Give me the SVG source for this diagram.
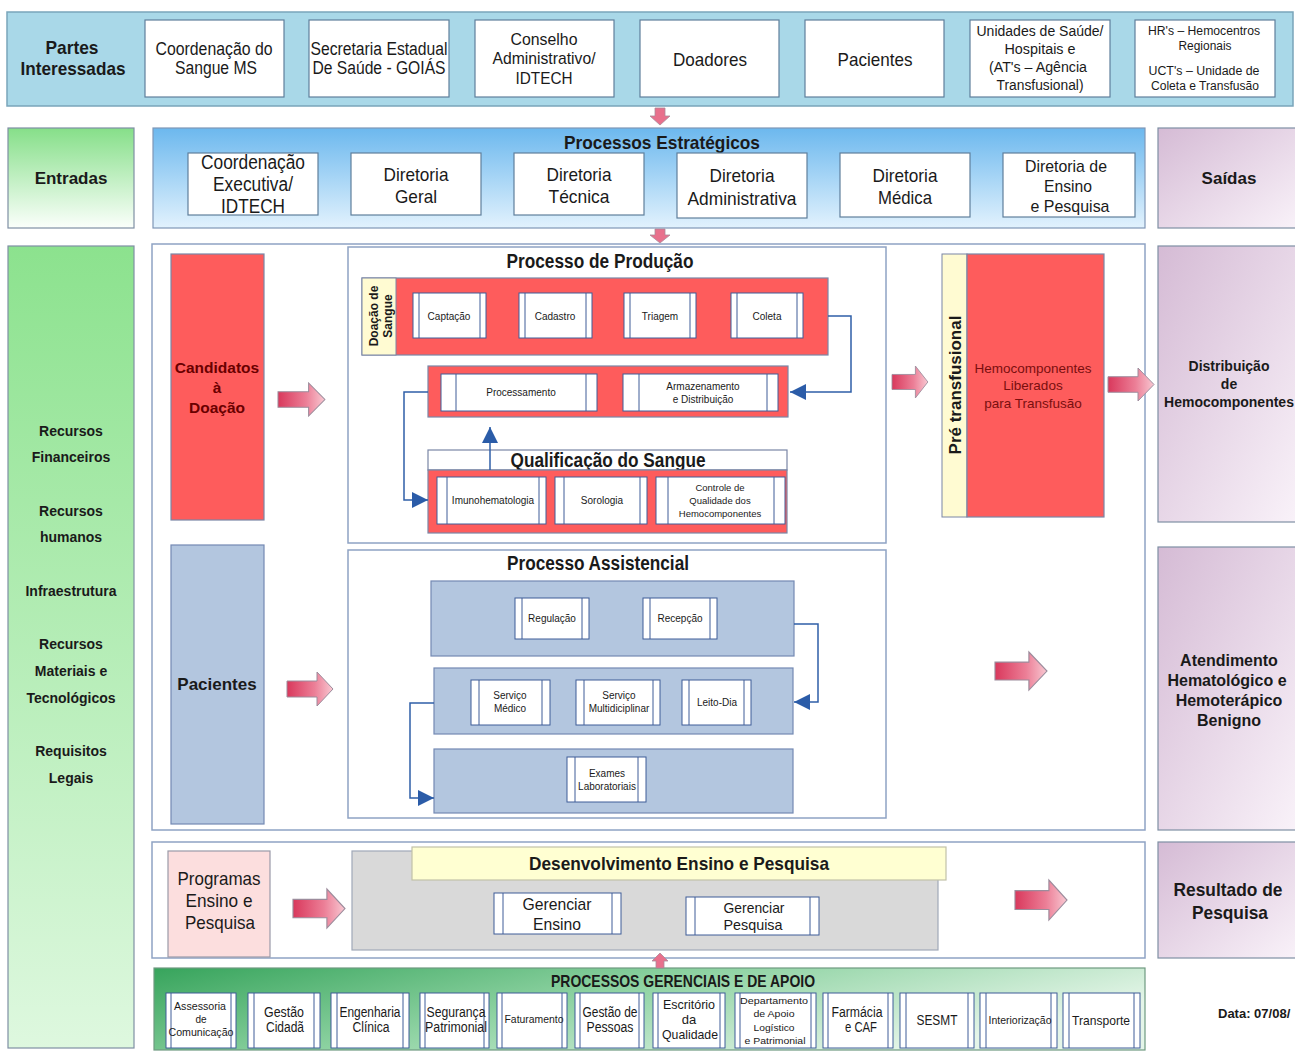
<svg xmlns="http://www.w3.org/2000/svg" xmlns:xlink="http://www.w3.org/1999/xlink" width="1295" height="1052" viewBox="0 0 1295 1052">
<defs>
<style>
.n{font-family:"Liberation Sans Narrow","Liberation Sans",Arial,sans-serif;fill:#1a1a1a;text-anchor:middle;dominant-baseline:central}
.s{font-family:"Liberation Sans",Arial,sans-serif;fill:#1a1a1a;text-anchor:middle;dominant-baseline:central}
.b{font-weight:bold}
.wb{fill:#fff;stroke:#5f7f9c;stroke-width:1.2}
.pb{fill:#fff;stroke:#3e5c98;stroke-width:1}
.pl{stroke:#3e5c98;stroke-width:1}
.red{fill:#fe5c5c;stroke:#7a86a6;stroke-width:1.2}
.blu{fill:#b3c6df;stroke:#7389b3;stroke-width:1.2}
.cnt{fill:#fff;stroke:#8ea3c4;stroke-width:1.5}
.cream{fill:#fffbd2;stroke:#7a86a6;stroke-width:1}
.conn{fill:none;stroke:#2f5fa8;stroke-width:1.5}
.pa{fill:url(#gpa);stroke:#9c8c9c;stroke-width:1}
.dr{fill:#7a0f0f}
.cd{fill:#6a0000}
</style>
<linearGradient id="gpa" x1="0" y1="0" x2="1" y2="0"><stop offset="0" stop-color="#d9385c"/><stop offset="0.6" stop-color="#ec7f97"/><stop offset="1" stop-color="#f8c8d2"/></linearGradient>
<linearGradient id="gent" x1="0" y1="0" x2="0" y2="1"><stop offset="0" stop-color="#86df89"/><stop offset="1" stop-color="#fbfffb"/></linearGradient>
<linearGradient id="gcol" x1="0" y1="0" x2="0" y2="1"><stop offset="0" stop-color="#8ce28e"/><stop offset="1" stop-color="#def8df"/></linearGradient>
<linearGradient id="gstr" x1="0" y1="0" x2="0" y2="1"><stop offset="0" stop-color="#6cb8ee"/><stop offset="1" stop-color="#e2f2fd"/></linearGradient>
<linearGradient id="gpur" x1="0" y1="0" x2="1" y2="1"><stop offset="0" stop-color="#d5bbd5"/><stop offset="1" stop-color="#f9f2f9"/></linearGradient>
<linearGradient id="ggrn" x1="0" y1="0" x2="1" y2="0.4"><stop offset="0" stop-color="#37a45c"/><stop offset="0.5" stop-color="#8fd3a3"/><stop offset="1" stop-color="#e4f5e8"/></linearGradient>
<marker id="ba" viewBox="0 0 10 10" refX="10" refY="5" markerWidth="19" markerHeight="16" markerUnits="userSpaceOnUse" orient="auto"><path d="M0,0 L10,5 L0,10 z" fill="#2b5ca8"/></marker>
<path id="parrow" d="M0,9 H30 V0 L46,17 L30,34 V25 H0 Z"/>
</defs>

<rect width="1295" height="1052" fill="#fff"/>

<!-- Partes interessadas -->
<g id="partes">
<rect x="7" y="12" width="1286" height="94" fill="#a9d8e8" stroke="#7aa5ba" stroke-width="1.5"/>
<text class="n b" x="72" y="47" font-size="19" textLength="53" lengthAdjust="spacingAndGlyphs">Partes</text>
<text class="n b" x="73" y="68" font-size="19" textLength="105" lengthAdjust="spacingAndGlyphs">Interessadas</text>
</g>
<g id="p1"><rect class="wb" x="145" y="20" width="139" height="77"/><text class="n" x="214" y="49" font-size="18" textLength="117" lengthAdjust="spacingAndGlyphs">Coordenação do</text><text class="n" x="216" y="68" font-size="18" textLength="82" lengthAdjust="spacingAndGlyphs">Sangue MS</text></g>
<g id="p2"><rect class="wb" x="309" y="20" width="140" height="77"/><text class="n" x="379" y="49" font-size="18" textLength="137" lengthAdjust="spacingAndGlyphs">Secretaria Estadual</text><text class="n" x="379" y="68" font-size="18" textLength="133" lengthAdjust="spacingAndGlyphs">De Saúde - GOIÁS</text></g>
<g id="p3"><rect class="wb" x="475" y="20" width="139" height="77"/><text class="n" x="544" y="39" font-size="17" textLength="67" lengthAdjust="spacingAndGlyphs">Conselho</text><text class="n" x="544" y="58" font-size="17" textLength="103" lengthAdjust="spacingAndGlyphs">Administrativo/</text><text class="n" x="544" y="78" font-size="17" textLength="57" lengthAdjust="spacingAndGlyphs">IDTECH</text></g>
<g id="p4"><rect class="wb" x="640" y="20" width="139" height="77"/><text class="n" x="710" y="59" font-size="19" textLength="74" lengthAdjust="spacingAndGlyphs">Doadores</text></g>
<g id="p5"><rect class="wb" x="805" y="20" width="139" height="77"/><text class="n" x="875" y="59" font-size="19" textLength="75" lengthAdjust="spacingAndGlyphs">Pacientes</text></g>
<g id="p6"><rect class="wb" x="970" y="20" width="140" height="77"/><text class="n" x="1040" y="31" font-size="14" textLength="127" lengthAdjust="spacingAndGlyphs">Unidades de Saúde/</text><text class="n" x="1040" y="49" font-size="14" textLength="71" lengthAdjust="spacingAndGlyphs">Hospitais e</text><text class="n" x="1038" y="67" font-size="14" textLength="98" lengthAdjust="spacingAndGlyphs">(AT's – Agência</text><text class="n" x="1040" y="85" font-size="14" textLength="87" lengthAdjust="spacingAndGlyphs">Transfusional)</text></g>
<g id="p7"><rect class="wb" x="1135" y="20" width="140" height="77"/><text class="n" x="1204" y="31" font-size="12" textLength="112" lengthAdjust="spacingAndGlyphs">HR's – Hemocentros</text><text class="n" x="1205" y="46" font-size="12" textLength="53" lengthAdjust="spacingAndGlyphs">Regionais</text><text class="n" x="1204" y="71" font-size="12" textLength="111" lengthAdjust="spacingAndGlyphs">UCT's – Unidade de</text><text class="n" x="1205" y="86" font-size="12" textLength="108" lengthAdjust="spacingAndGlyphs">Coleta e Transfusão</text></g>

<!-- Entradas / Estrategicos / Saidas -->
<g id="entradas"><rect x="8" y="128" width="126" height="100" fill="url(#gent)" stroke="#7f8fa4" stroke-width="1.2"/><text class="s b" x="71" y="178" font-size="17">Entradas</text></g>
<g id="estrategicos">
<rect x="153" y="128" width="992" height="100" fill="url(#gstr)" stroke="#7f97b6" stroke-width="1.2"/>
<text class="n b" x="662" y="142" font-size="19" textLength="196" lengthAdjust="spacingAndGlyphs">Processos Estratégicos</text>
<rect class="wb" x="188" y="153" width="130" height="62"/><text class="n" x="253" y="162" font-size="20" textLength="104" lengthAdjust="spacingAndGlyphs">Coordenação</text><text class="n" x="253" y="184" font-size="20" textLength="80" lengthAdjust="spacingAndGlyphs">Executiva/</text><text class="n" x="253" y="206" font-size="20" textLength="64" lengthAdjust="spacingAndGlyphs">IDTECH</text>
<rect class="wb" x="351" y="153" width="130" height="62"/><text class="n" x="416" y="174" font-size="19" textLength="65" lengthAdjust="spacingAndGlyphs">Diretoria</text><text class="n" x="416" y="196" font-size="19" textLength="42" lengthAdjust="spacingAndGlyphs">Geral</text>
<rect class="wb" x="514" y="153" width="130" height="62"/><text class="n" x="579" y="174" font-size="19" textLength="65" lengthAdjust="spacingAndGlyphs">Diretoria</text><text class="n" x="579" y="196" font-size="19" textLength="61" lengthAdjust="spacingAndGlyphs">Técnica</text>
<rect class="wb" x="677" y="153" width="130" height="65"/><text class="n" x="742" y="175" font-size="19" textLength="65" lengthAdjust="spacingAndGlyphs">Diretoria</text><text class="n" x="742" y="198" font-size="19" textLength="109" lengthAdjust="spacingAndGlyphs">Administrativa</text>
<rect class="wb" x="840" y="153" width="130" height="64"/><text class="n" x="905" y="175" font-size="19" textLength="65" lengthAdjust="spacingAndGlyphs">Diretoria</text><text class="n" x="905" y="197" font-size="19" textLength="54" lengthAdjust="spacingAndGlyphs">Médica</text>
<rect class="wb" x="1003" y="153" width="132" height="64"/><text class="n" x="1066" y="166" font-size="17" textLength="82" lengthAdjust="spacingAndGlyphs">Diretoria de</text><text class="n" x="1068" y="186" font-size="17" textLength="48" lengthAdjust="spacingAndGlyphs">Ensino</text><text class="n" x="1070" y="206" font-size="17" textLength="79" lengthAdjust="spacingAndGlyphs">e Pesquisa</text>
</g>
<g id="saidas"><rect x="1158" y="128" width="140" height="100" fill="url(#gpur)" stroke="#7f8fa4" stroke-width="1.2"/><text class="s b" x="1229" y="178" font-size="17">Saídas</text></g>

<!-- Left column -->
<g id="recursos">
<rect x="8" y="246" width="126" height="802" fill="url(#gcol)" stroke="#7f8fa4" stroke-width="1.2"/>
<text class="s b" x="71" y="431" font-size="14">Recursos</text>
<text class="s b" x="71" y="457" font-size="14">Financeiros</text>
<text class="s b" x="71" y="511" font-size="14">Recursos</text>
<text class="s b" x="71" y="537" font-size="14">humanos</text>
<text class="s b" x="71" y="591" font-size="14">Infraestrutura</text>
<text class="s b" x="71" y="644" font-size="14">Recursos</text>
<text class="s b" x="71" y="671" font-size="14">Materiais e</text>
<text class="s b" x="71" y="698" font-size="14">Tecnológicos</text>
<text class="s b" x="71" y="751" font-size="14">Requisitos</text>
<text class="s b" x="71" y="778" font-size="14">Legais</text>
</g>

<!-- Main container -->
<rect class="cnt" x="152" y="244" width="993" height="586"/>

<g id="candidatos"><rect x="171" y="254" width="93" height="266" fill="#fe5c5c" stroke="#7a86a6" stroke-width="1.2"/>
<text class="s b cd" x="217" y="367" font-size="15.5">Candidatos</text><text class="s b cd" x="217" y="387" font-size="15.5">à</text><text class="s b cd" x="217" y="407" font-size="15.5">Doação</text></g>
<g id="pacientes-in"><rect x="171" y="545" width="93" height="279" fill="#b3c6df" stroke="#7389b3" stroke-width="1.2"/><text class="s b" x="217" y="684" font-size="17">Pacientes</text></g>

<!-- Processo de Producao -->
<g id="producao">
<rect class="cnt" x="348" y="247" width="538" height="296"/>
<text class="n b" x="600" y="261" font-size="20" textLength="187" lengthAdjust="spacingAndGlyphs">Processo de Produção</text>
<rect class="red" x="362" y="278" width="466" height="77"/>
<rect class="cream" x="362" y="278" width="34" height="77"/>
<text class="s b" font-size="12" transform="translate(374,316) rotate(-90)">Doação de</text>
<text class="s b" font-size="12" transform="translate(388,316) rotate(-90)">Sangue</text>
<g><rect class="pb" x="413" y="293" width="73" height="45"/><line class="pl" x1="419" y1="293" x2="419" y2="338"/><line class="pl" x1="480" y1="293" x2="480" y2="338"/><text class="s" x="449" y="316" font-size="10">Captação</text></g>
<g><rect class="pb" x="519" y="293" width="73" height="45"/><line class="pl" x1="525" y1="293" x2="525" y2="338"/><line class="pl" x1="586" y1="293" x2="586" y2="338"/><text class="s" x="555" y="316" font-size="10">Cadastro</text></g>
<g><rect class="pb" x="624" y="293" width="72" height="45"/><line class="pl" x1="630" y1="293" x2="630" y2="338"/><line class="pl" x1="690" y1="293" x2="690" y2="338"/><text class="s" x="660" y="316" font-size="10">Triagem</text></g>
<g><rect class="pb" x="731" y="293" width="72" height="45"/><line class="pl" x1="737" y1="293" x2="737" y2="338"/><line class="pl" x1="797" y1="293" x2="797" y2="338"/><text class="s" x="767" y="316" font-size="10">Coleta</text></g>
<rect class="red" x="428" y="366" width="360" height="51"/>
<g><rect class="pb" x="441" y="374" width="156" height="37"/><line class="pl" x1="456" y1="374" x2="456" y2="411"/><line class="pl" x1="586" y1="374" x2="586" y2="411"/><text class="s" x="521" y="392" font-size="10">Processamento</text></g>
<g><rect class="pb" x="623" y="374" width="155" height="37"/><line class="pl" x1="639" y1="374" x2="639" y2="411"/><line class="pl" x1="767" y1="374" x2="767" y2="411"/><text class="s" x="703" y="386" font-size="10">Armazenamento</text><text class="s" x="703" y="399" font-size="10">e Distribuição</text></g>
<rect x="428" y="450" width="359" height="20" fill="#fff" stroke="#7a86a6" stroke-width="1.2"/>
<text class="n b" x="608" y="459" font-size="21" textLength="195" lengthAdjust="spacingAndGlyphs">Qualificação do Sangue</text>
<rect class="red" x="428" y="470" width="359" height="63"/>
<g><rect class="pb" x="437" y="477" width="109" height="47"/><line class="pl" x1="447" y1="477" x2="447" y2="524"/><line class="pl" x1="539" y1="477" x2="539" y2="524"/><text class="s" x="493" y="500" font-size="10">Imunohematologia</text></g>
<g><rect class="pb" x="555" y="477" width="92" height="47"/><line class="pl" x1="564" y1="477" x2="564" y2="524"/><line class="pl" x1="640" y1="477" x2="640" y2="524"/><text class="s" x="602" y="500" font-size="10">Sorologia</text></g>
<g><rect class="pb" x="656" y="477" width="129" height="47"/><line class="pl" x1="668" y1="477" x2="668" y2="524"/><line class="pl" x1="774" y1="477" x2="774" y2="524"/><text class="s" x="720" y="487" font-size="9.5">Controle de</text><text class="s" x="720" y="500" font-size="9.5">Qualidade dos</text><text class="s" x="720" y="513" font-size="9.5">Hemocomponentes</text></g>
</g>

<!-- Pre transfusional -->
<g id="pretransfusional">
<rect class="cream" x="942" y="254" width="25" height="263"/>
<rect class="red" x="967" y="254" width="137" height="263"/>
<text class="s b" font-size="17" transform="translate(955,385) rotate(-90)">Pré transfusional</text>
<text class="s dr" x="1033" y="368" font-size="13.5">Hemocomponentes</text>
<text class="s dr" x="1033" y="385" font-size="13.5">Liberados</text>
<text class="s dr" x="1033" y="403" font-size="13.5">para Transfusão</text>
</g>

<!-- Processo Assistencial -->
<g id="assistencial">
<rect class="cnt" x="348" y="550" width="538" height="268"/>
<text class="n b" x="598" y="563" font-size="20" textLength="182" lengthAdjust="spacingAndGlyphs">Processo Assistencial</text>
<rect class="blu" x="431" y="581" width="363" height="75"/>
<g><rect class="pb" x="515" y="598" width="74" height="41"/><line class="pl" x1="522" y1="598" x2="522" y2="639"/><line class="pl" x1="582" y1="598" x2="582" y2="639"/><text class="s" x="552" y="618" font-size="10">Regulação</text></g>
<g><rect class="pb" x="643" y="598" width="74" height="41"/><line class="pl" x1="650" y1="598" x2="650" y2="639"/><line class="pl" x1="710" y1="598" x2="710" y2="639"/><text class="s" x="680" y="618" font-size="10">Recepção</text></g>
<rect class="blu" x="434" y="668" width="359" height="66"/>
<g><rect class="pb" x="471" y="680" width="79" height="45"/><line class="pl" x1="479" y1="680" x2="479" y2="725"/><line class="pl" x1="542" y1="680" x2="542" y2="725"/><text class="s" x="510" y="695" font-size="10">Serviço</text><text class="s" x="510" y="708" font-size="10">Médico</text></g>
<g><rect class="pb" x="576" y="680" width="84" height="45"/><line class="pl" x1="584" y1="680" x2="584" y2="725"/><line class="pl" x1="653" y1="680" x2="653" y2="725"/><text class="s" x="619" y="695" font-size="10">Serviço</text><text class="s" x="619" y="708" font-size="10">Multidiciplinar</text></g>
<g><rect class="pb" x="682" y="680" width="69" height="45"/><line class="pl" x1="689" y1="680" x2="689" y2="725"/><line class="pl" x1="744" y1="680" x2="744" y2="725"/><text class="s" x="717" y="702" font-size="10">Leito-Dia</text></g>
<rect class="blu" x="434" y="749" width="359" height="64"/>
<g><rect class="pb" x="567" y="757" width="79" height="45"/><line class="pl" x1="575" y1="757" x2="575" y2="802"/><line class="pl" x1="638" y1="757" x2="638" y2="802"/><text class="s" x="607" y="773" font-size="10">Exames</text><text class="s" x="607" y="786" font-size="10">Laboratoriais</text></g>
</g>

<!-- Right column outputs -->
<g id="distribuicao"><rect x="1158" y="246" width="140" height="276" fill="url(#gpur)" stroke="#7f8fa4" stroke-width="1.2"/><text class="s b" x="1229" y="366" font-size="14">Distribuição</text><text class="s b" x="1229" y="384" font-size="14">de</text><text class="s b" x="1229" y="402" font-size="14">Hemocomponentes</text></g>
<g id="atendimento"><rect x="1158" y="547" width="140" height="283" fill="url(#gpur)" stroke="#7f8fa4" stroke-width="1.2"/><text class="s b" x="1229" y="660" font-size="16">Atendimento</text><text class="s b" x="1227" y="680" font-size="16">Hematológico e</text><text class="s b" x="1229" y="700" font-size="16">Hemoterápico</text><text class="s b" x="1229" y="720" font-size="16">Benigno</text></g>
<g id="resultado"><rect x="1158" y="842" width="140" height="116" fill="url(#gpur)" stroke="#7f8fa4" stroke-width="1.2"/><text class="n b" x="1228" y="889" font-size="19" textLength="109" lengthAdjust="spacingAndGlyphs">Resultado de</text><text class="n b" x="1230" y="912" font-size="19" textLength="76" lengthAdjust="spacingAndGlyphs">Pesquisa</text></g>

<!-- Ensino e Pesquisa -->
<g id="ensino">
<rect class="cnt" x="152" y="842" width="993" height="116"/>
<rect x="168" y="851" width="102" height="106" fill="#fcdede" stroke="#9a9aa8" stroke-width="1.2"/>
<text class="n" x="219" y="878" font-size="19" textLength="83" lengthAdjust="spacingAndGlyphs">Programas</text><text class="n" x="219" y="900" font-size="19" textLength="67" lengthAdjust="spacingAndGlyphs">Ensino e</text><text class="n" x="220" y="922" font-size="19" textLength="70" lengthAdjust="spacingAndGlyphs">Pesquisa</text>
<rect x="352" y="851" width="586" height="99" fill="#d9d9d9" stroke="#a0a8b8" stroke-width="1.2"/>
<rect x="412" y="847" width="534" height="33" fill="#ffffd2" stroke="#c2c2a8" stroke-width="1.2"/>
<text class="n b" x="679" y="863" font-size="19" textLength="300" lengthAdjust="spacingAndGlyphs">Desenvolvimento Ensino e Pesquisa</text>
<g><rect class="pb" x="494" y="893" width="127" height="41"/><line class="pl" x1="503" y1="893" x2="503" y2="934"/><line class="pl" x1="612" y1="893" x2="612" y2="934"/><text class="n" x="557" y="904" font-size="17" textLength="69" lengthAdjust="spacingAndGlyphs">Gerenciar</text><text class="n" x="557" y="924" font-size="17" textLength="48" lengthAdjust="spacingAndGlyphs">Ensino</text></g>
<g><rect class="pb" x="686" y="897" width="133" height="38"/><line class="pl" x1="695" y1="897" x2="695" y2="935"/><line class="pl" x1="810" y1="897" x2="810" y2="935"/><text class="n" x="754" y="907" font-size="15" textLength="61" lengthAdjust="spacingAndGlyphs">Gerenciar</text><text class="n" x="753" y="924" font-size="15" textLength="59" lengthAdjust="spacingAndGlyphs">Pesquisa</text></g>
</g>

<!-- Gerenciais e apoio -->
<g id="gerenciais">
<rect x="154" y="968" width="991" height="82" fill="url(#ggrn)" stroke="#6f9a80" stroke-width="1.2"/>
<text class="n b" x="683" y="981" font-size="17" textLength="264" lengthAdjust="spacingAndGlyphs">PROCESSOS GERENCIAIS E DE APOIO</text>
<g><rect class="pb" x="166" y="993" width="70" height="55"/><line class="pl" x1="171" y1="993" x2="171" y2="1048"/><line class="pl" x1="231" y1="993" x2="231" y2="1048"/><text class="n" x="200" y="1006" font-size="10" textLength="52" lengthAdjust="spacingAndGlyphs">Assessoria</text><text class="n" x="201" y="1019" font-size="10">de</text><text class="n" x="201" y="1032" font-size="10" textLength="65" lengthAdjust="spacingAndGlyphs">Comunicação</text></g>
<g><rect class="pb" x="248" y="993" width="72" height="55"/><line class="pl" x1="254" y1="993" x2="254" y2="1048"/><line class="pl" x1="314" y1="993" x2="314" y2="1048"/><text class="n" x="284" y="1012" font-size="14" textLength="40" lengthAdjust="spacingAndGlyphs">Gestão</text><text class="n" x="285" y="1027" font-size="14" textLength="38" lengthAdjust="spacingAndGlyphs">Cidadã</text></g>
<g><rect class="pb" x="331" y="993" width="78" height="55"/><line class="pl" x1="337" y1="993" x2="337" y2="1048"/><line class="pl" x1="403" y1="993" x2="403" y2="1048"/><text class="n" x="370" y="1012" font-size="14" textLength="61" lengthAdjust="spacingAndGlyphs">Engenharia</text><text class="n" x="371" y="1027" font-size="14" textLength="37" lengthAdjust="spacingAndGlyphs">Clínica</text></g>
<g><rect class="pb" x="420" y="993" width="69" height="55"/><line class="pl" x1="425" y1="993" x2="425" y2="1048"/><line class="pl" x1="484" y1="993" x2="484" y2="1048"/><text class="n" x="456" y="1012" font-size="14" textLength="59" lengthAdjust="spacingAndGlyphs">Segurança</text><text class="n" x="456" y="1027" font-size="14" textLength="62" lengthAdjust="spacingAndGlyphs">Patrimonial</text></g>
<g><rect class="pb" x="497" y="993" width="70" height="55"/><line class="pl" x1="502" y1="993" x2="502" y2="1048"/><line class="pl" x1="562" y1="993" x2="562" y2="1048"/><text class="n" x="534" y="1019" font-size="10" textLength="59" lengthAdjust="spacingAndGlyphs">Faturamento</text></g>
<g><rect class="pb" x="575" y="993" width="69" height="55"/><line class="pl" x1="580" y1="993" x2="580" y2="1048"/><line class="pl" x1="639" y1="993" x2="639" y2="1048"/><text class="n" x="610" y="1012" font-size="14" textLength="55" lengthAdjust="spacingAndGlyphs">Gestão de</text><text class="n" x="610" y="1027" font-size="14" textLength="47" lengthAdjust="spacingAndGlyphs">Pessoas</text></g>
<g><rect class="pb" x="653" y="993" width="72" height="55"/><line class="pl" x1="658" y1="993" x2="658" y2="1048"/><line class="pl" x1="720" y1="993" x2="720" y2="1048"/><text class="n" x="689" y="1004" font-size="13" textLength="52" lengthAdjust="spacingAndGlyphs">Escritório</text><text class="n" x="689" y="1019" font-size="13">da</text><text class="n" x="690" y="1034" font-size="13" textLength="56" lengthAdjust="spacingAndGlyphs">Qualidade</text></g>
<g><rect class="pb" x="735" y="993" width="81" height="55"/><line class="pl" x1="740" y1="993" x2="740" y2="1048"/><line class="pl" x1="811" y1="993" x2="811" y2="1048"/><text class="n" x="774" y="1000" font-size="9.5" textLength="68" lengthAdjust="spacingAndGlyphs">Departamento</text><text class="n" x="774" y="1013" font-size="9.5" textLength="41" lengthAdjust="spacingAndGlyphs">de Apoio</text><text class="n" x="774" y="1027" font-size="9.5" textLength="41" lengthAdjust="spacingAndGlyphs">Logístico</text><text class="n" x="775" y="1040" font-size="9.5" textLength="61" lengthAdjust="spacingAndGlyphs">e Patrimonial</text></g>
<g><rect class="pb" x="823" y="993" width="70" height="55"/><line class="pl" x1="828" y1="993" x2="828" y2="1048"/><line class="pl" x1="888" y1="993" x2="888" y2="1048"/><text class="n" x="857" y="1012" font-size="14" textLength="51" lengthAdjust="spacingAndGlyphs">Farmácia</text><text class="n" x="861" y="1027" font-size="14" textLength="32" lengthAdjust="spacingAndGlyphs">e CAF</text></g>
<g><rect class="pb" x="900" y="993" width="74" height="55"/><line class="pl" x1="906" y1="993" x2="906" y2="1048"/><line class="pl" x1="968" y1="993" x2="968" y2="1048"/><text class="n" x="937" y="1020" font-size="14" textLength="41" lengthAdjust="spacingAndGlyphs">SESMT</text></g>
<g><rect class="pb" x="980" y="993" width="77" height="55"/><line class="pl" x1="986" y1="993" x2="986" y2="1048"/><line class="pl" x1="1051" y1="993" x2="1051" y2="1048"/><text class="n" x="1020" y="1020" font-size="10" textLength="63" lengthAdjust="spacingAndGlyphs">Interiorização</text></g>
<g><rect class="pb" x="1063" y="993" width="77" height="55"/><line class="pl" x1="1069" y1="993" x2="1069" y2="1048"/><line class="pl" x1="1134" y1="993" x2="1134" y2="1048"/><text class="n" x="1101" y="1020" font-size="13.5" textLength="58" lengthAdjust="spacingAndGlyphs">Transporte</text></g>
</g>

<text class="s b" x="1218" y="1013" font-size="13" style="text-anchor:start">Data: 07/08/</text>

<!-- Connectors -->
<g id="connectors">
<path class="conn" d="M828,316 H851 V392 H790" marker-end="url(#ba)"/>
<path class="conn" d="M428,392 H404 V500 H428" marker-end="url(#ba)"/>
<path class="conn" d="M490,470 V427" marker-end="url(#ba)"/>
<path class="conn" d="M794,624 H818 V702 H794" marker-end="url(#ba)"/>
<path class="conn" d="M434,703 H410 V798 H434" marker-end="url(#ba)"/>
<path d="M655,108 h10 v8 h5 l-10,9 l-10,-9 h5z" fill="#e8708c" stroke="#a98a9a" stroke-width="0.8"/>
<path d="M655,229 h10 v6 h5 l-10,8 l-10,-8 h5z" fill="#e8708c" stroke="#a98a9a" stroke-width="0.8"/>
<path d="M660,953 l8,8 h-4 v7 h-8 v-7 h-4z" fill="#e8708c" stroke="#a98a9a" stroke-width="0.8"/>
<use xlink:href="#parrow" class="pa" transform="translate(278,383) scale(1.02,0.97)"/>
<use xlink:href="#parrow" class="pa" transform="translate(287,672)"/>
<use xlink:href="#parrow" class="pa" transform="translate(892,366) scale(0.78,0.94)"/>
<use xlink:href="#parrow" class="pa" transform="translate(1108,368) scale(1,0.97)"/>
<use xlink:href="#parrow" class="pa" transform="translate(995,652) scale(1.13,1.12)"/>
<use xlink:href="#parrow" class="pa" transform="translate(293,889) scale(1.13,1.15)"/>
<use xlink:href="#parrow" class="pa" transform="translate(1015,880) scale(1.13,1.18)"/>
</g>
</svg>
